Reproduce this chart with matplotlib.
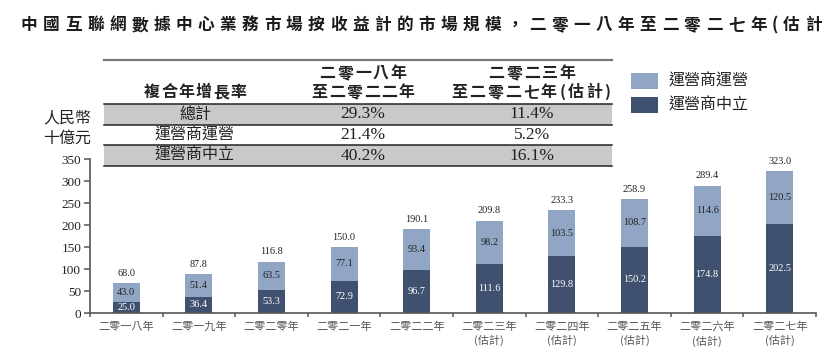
import numpy as np
import matplotlib
matplotlib.use("Agg")
import matplotlib.pyplot as plt
from matplotlib.patches import Rectangle

plt.rcParams['font.family'] = ['Noto Sans CJK TC', 'DejaVu Sans']

# 數據
years = ['二零一八年', '二零一九年', '二零二零年', '二零二一年', '二零二二年',
         '二零二三年\n(估計)', '二零二四年\n(估計)', '二零二五年\n(估計)',
         '二零二六年\n(估計)', '二零二七年\n(估計)']
neutral = [25.0, 36.4, 53.3, 72.9, 96.7, 111.6, 129.8, 150.2, 174.8, 202.5]
operator = [43.0, 51.4, 63.5, 77.1, 93.4, 98.2, 103.5, 108.7, 114.6, 120.5]
totals = [68.0, 87.8, 116.8, 150.0, 190.1, 209.8, 233.3, 258.9, 289.4, 323.0]

cagr_rows = ['總計', '運營商運營', '運營商中立']
cagr_1822 = ['29.3%', '21.4%', '40.2%']
cagr_2327 = ['11.4%', '5.2%', '16.1%']

# 原圖標題在右邊被截斷
title = '中國互聯網數據中心業務市場按收益計的市場規模，二零一八年至二零二七年(估計'

light = '#91a6c4'
dark = '#3f516f'
W, H = 829, 353

fig = plt.figure(figsize=(W / 100, H / 100), dpi=100)

# 疊加層（像素坐標）
ov = fig.add_axes([0, 0, 1, 1])
ov.set_xlim(0, W)
ov.set_ylim(H, 0)
ov.axis('off')


def spaced(x, y, text, pitch, size, ha='center', weight='normal', color='#222222'):
    # 逐字排版，模仿原圖的字距
    widths = [pitch * 0.5 if ch in '()（）' else pitch for ch in text]
    total = sum(widths)
    start = x - total / 2 if ha == 'center' else x
    pos = start
    for ch, w in zip(text, widths):
        ov.text(pos + w / 2, y, ch, ha='center', va='center', fontsize=size,
                fontweight=weight, color=color, clip_on=False)
        pos += w


# 標題
spaced(18, 25, title, 22.1, 12, ha='left', weight='bold', color='#1a1a1a')

# 表格
x0, x1 = 104, 612
ov.plot([x0, x1], [59.5, 59.5], color='#777777', lw=1.6)
for y0, y1 in [(104, 125), (145, 166)]:
    ov.add_patch(Rectangle((x0, y0), x1 - x0, y1 - y0, color='#c8c9cb', lw=0))
for yl in [104, 125, 145, 166]:
    ov.plot([x0, x1], [yl, yl], color='#222222', lw=1.1)

spaced(195, 92, '複合年增長率', 17.3, 11.5, weight='bold')
spaced(363, 73, '二零一八年', 17.7, 11.5, weight='bold')
spaced(363, 92, '至二零二二年', 17.5, 11.5, weight='bold')
spaced(532, 73, '二零二三年', 17.7, 11.5, weight='bold')
spaced(531, 92, '至二零二七年(估計)', 17.9, 11.5, weight='bold')

row_y = [114.5, 135, 155.5]
for name, a, b, y in zip(cagr_rows, cagr_1822, cagr_2327, row_y):
    ov.text(195, y, name, ha='center', va='center', fontsize=11.5, color='#222222')
    ov.text(363, y, a, ha='center', va='center', fontsize=12.5,
            family='Liberation Serif', color='#222222')
    ov.text(532, y, b, ha='center', va='center', fontsize=12.5,
            family='Liberation Serif', color='#222222')

# 圖例
ov.add_patch(Rectangle((631, 73), 27, 16, color=light, lw=0))
ov.add_patch(Rectangle((631, 97), 27, 16, color=dark, lw=0))
ov.text(669, 81, '運營商運營', va='center', fontsize=11.5, color='#222222')
ov.text(669, 105, '運營商中立', va='center', fontsize=11.5, color='#222222')

# 單位
ov.text(91, 118, '人民幣', ha='right', va='center', fontsize=11.5, color='#222222')
ov.text(91, 138, '十億元', ha='right', va='center', fontsize=11.5, color='#222222')

# 主圖
ax = fig.add_axes([90 / W, (H - 313) / H, (816 - 90) / W, (313 - 159) / H])
x = np.arange(len(years))
bw = 0.372
ax.bar(x, neutral, bw, color=dark, zorder=2)
ax.bar(x, operator, bw, bottom=neutral, color=light, zorder=2)

for i in range(len(x)):
    ax.text(x[i], neutral[i] / 2, f'{neutral[i]:.1f}', ha='center', va='center',
            fontsize=7.4, family='Liberation Serif', color='white')
    ax.text(x[i], neutral[i] + operator[i] / 2, f'{operator[i]:.1f}', ha='center',
            va='center', fontsize=7.4, family='Liberation Serif', color='#222222')
    ax.annotate(f'{totals[i]:.1f}', (x[i], totals[i]), xytext=(0, 7),
                textcoords='offset points', ha='center', va='center',
                fontsize=7.4, family='Liberation Serif', color='#222222')

ax.set_xlim(-0.5, 9.5)
ax.set_ylim(0, 350)
ax.set_yticks(np.arange(0, 351, 50))
ax.set_yticklabels([str(v) for v in range(0, 351, 50)], family='Liberation Serif',
                   fontsize=9.5, color='#222222')
ax.set_xticks(x)
ax.set_xticklabels(years, fontsize=8, color='#555555', linespacing=1.35)
ax.set_xticks(np.arange(-0.5, 10, 1), minor=True)
ax.tick_params(axis='x', which='major', length=0, pad=6)
ax.tick_params(axis='x', which='minor', length=3, width=1.1, color='#555555')
ax.tick_params(axis='y', length=4.3, width=1.1, color='#555555', pad=2)
for s in ['top', 'right']:
    ax.spines[s].set_visible(False)
for s in ['left', 'bottom']:
    ax.spines[s].set_color('#555555')
    ax.spines[s].set_linewidth(1.2)
ax.patch.set_alpha(0)

plt.savefig('out.png', dpi=100)
